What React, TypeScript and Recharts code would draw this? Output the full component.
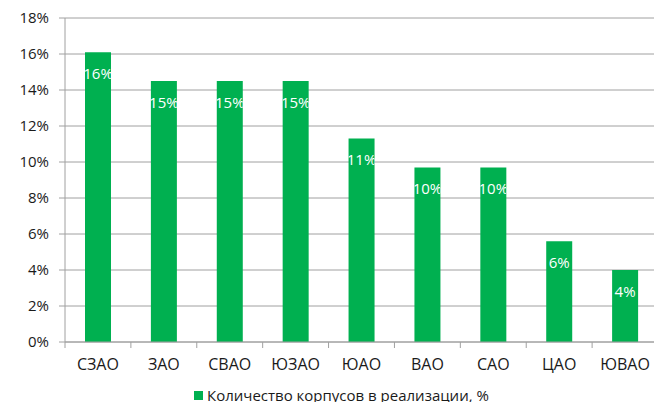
import React from 'react';
import { BarChart, Bar, XAxis, YAxis, CartesianGrid, Legend, LabelList } from 'recharts';

const districts = ['СЗАО', 'ЗАО', 'СВАО', 'ЮЗАО', 'ЮАО', 'ВАО', 'САО', 'ЦАО', 'ЮВАО'];
const shares = [16.1, 14.5, 14.5, 14.5, 11.3, 9.7, 9.7, 5.6, 4.0];
const yTicks = [0, 2, 4, 6, 8, 10, 12, 14, 16, 18];
const seriesName = 'Количество корпусов в реализации, %';

const data = districts.map((d, i) => ({ district: d, share: shares[i] }));

const FONT = '"Open Sans", "Noto Sans", sans-serif';
const GRID = '#a0a0a0';
const GREEN = '#00b050';
const TEXT = '#1a1a1a';

const XTick = (props: any) => {
  const { x, y, payload, index, visibleTicksCount } = props;
  const off = payload && payload.offset != null ? payload.offset : 0;
  const axisY = y - 17;
  const last = index === visibleTicksCount - 1;
  return (
    <g>
      <line x1={x - off} x2={x - off} y1={axisY} y2={axisY + 6} stroke={GRID} />
      {last && <line x1={x + off} x2={x + off} y1={axisY} y2={axisY + 6} stroke={GRID} />}
      <text x={x} y={y} dy="0.71em" textAnchor="middle" fontSize={16} fill={TEXT} fontFamily={FONT}>
        {payload.value}
      </text>
    </g>
  );
};

const BarLabel = (props: any) => {
  const { x, y, width, height, value, index } = props;
  const id = `bar-label-clip-${index}`;
  return (
    <g>
      <defs>
        <clipPath id={id}>
          <rect x={x} y={y} width={width} height={height} />
        </clipPath>
      </defs>
      <text
        x={x + width / 2}
        y={y + 26.5}
        textAnchor="middle"
        fill="#ffffff"
        fontSize={15}
        fontFamily={FONT}
        clipPath={`url(#${id})`}
      >
        {Math.round(value)}%
      </text>
    </g>
  );
};

const LegendContent = () => (
  <div
    style={{
      display: 'flex',
      alignItems: 'center',
      fontFamily: FONT,
      fontSize: 15,
      color: TEXT,
      whiteSpace: 'nowrap',
      lineHeight: '20px',
    }}
  >
    <span style={{ width: 9, height: 9, background: GREEN, marginRight: 4, display: 'inline-block' }} />
    {seriesName}
  </div>
);

export default function App() {
  return (
    <div style={{ width: 654, height: 402, overflow: 'hidden', position: 'relative' }}>
      <style>{`body{margin:0;overflow:hidden;}`}</style>
      <BarChart width={658} height={402} data={data} margin={{ top: 18, right: 0, bottom: 0, left: 0 }}>
        <CartesianGrid vertical={false} stroke={GRID} />
        <XAxis
          dataKey="district"
          height={60}
          stroke={GRID}
          tickLine={false}
          tickSize={6}
          tickMargin={11}
          tick={<XTick />}
          interval={0}
        />
        <YAxis
          width={65}
          domain={[0, 18]}
          ticks={yTicks}
          tickFormatter={(v: number) => `${v}%`}
          stroke={GRID}
          tickSize={6}
          tickMargin={10}
          tick={{ fill: TEXT, fontSize: 15, fontFamily: FONT }}
          interval={0}
        />
        <Legend
          verticalAlign="middle"
          layout="horizontal"
          wrapperStyle={{ left: 194, top: 385, width: 'auto', height: 'auto' }}
          content={<LegendContent />}
        />
        <Bar dataKey="share" name={seriesName} fill={GREEN} barSize={26} isAnimationActive={false}>
          <LabelList dataKey="share" content={<BarLabel />} />
        </Bar>
      </BarChart>
    </div>
  );
}
